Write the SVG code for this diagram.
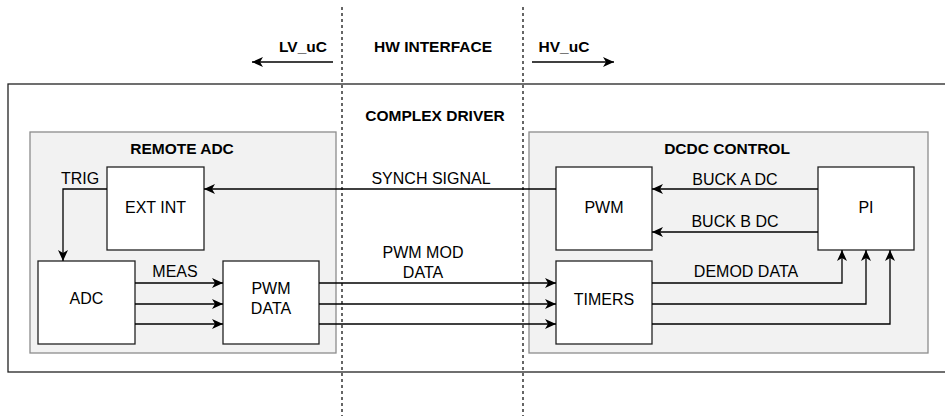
<svg xmlns="http://www.w3.org/2000/svg" width="945" height="416" viewBox="0 0 945 416">
  <style>
    text { font-family: "Liberation Sans", Arial, sans-serif; fill: #000; text-anchor: middle; }
    .lbl { font-size: 16px; }
    .ttl { font-size: 15.5px; font-weight: bold; }
    .blk { fill: #fff; stroke: #222; stroke-width: 1.3; }
    .grp { fill: #f2f2f2; stroke: #8c8c8c; stroke-width: 1.3; }
    .frame { fill: none; stroke: #222; stroke-width: 1.3; }
    .wire { fill: none; stroke: #000; stroke-width: 1.3; }
    .arr { marker-end: url(#head); }
    .dash { stroke: #000; stroke-width: 1.2; stroke-dasharray: 3 3; }
  </style>
  <defs>
    <marker id="head" viewBox="0 0 11 10" refX="11" refY="5" markerWidth="11" markerHeight="10" markerUnits="userSpaceOnUse" orient="auto">
      <path d="M0,0 L11,5 L0,10 L3,5 Z" fill="#000"/>
    </marker>
  </defs>

  <rect width="945" height="416" fill="#fff"/>

  <!-- outer frame -->
  <g id="complex-driver">
    <rect class="frame" x="8" y="84" width="940" height="288"/>
    <text class="ttl" x="435" y="121">COMPLEX DRIVER</text>
  </g>

  <!-- domain boundaries -->
  <g id="boundaries">
    <line class="dash" x1="342" y1="7" x2="342" y2="416"/>
    <line class="dash" x1="523" y1="7" x2="523" y2="416"/>
    <text class="ttl" x="303" y="52">LV_uC</text>
    <text class="ttl" x="433" y="52">HW INTERFACE</text>
    <text class="ttl" x="564" y="52">HV_uC</text>
  </g>

  <g id="remote-adc">
    <rect class="grp" x="30" y="132" width="306" height="221"/>
    <text class="ttl" x="182" y="154">REMOTE ADC</text>
  </g>

  <g id="dcdc-control">
    <rect class="grp" x="529" y="132" width="399" height="221"/>
    <text class="ttl" x="727" y="154">DCDC CONTROL</text>
  </g>

  <g id="ext-int">
    <rect class="blk" x="107" y="167" width="97" height="83"/>
    <text class="lbl" x="155.5" y="213">EXT INT</text>
  </g>

  <g id="adc">
    <rect class="blk" x="38" y="261" width="97" height="83"/>
    <text class="lbl" x="86.5" y="304">ADC</text>
  </g>

  <g id="pwm-data">
    <rect class="blk" x="223" y="261" width="96" height="83"/>
    <text class="lbl" x="271" y="294">PWM</text>
    <text class="lbl" x="271" y="314">DATA</text>
  </g>

  <g id="pwm">
    <rect class="blk" x="556" y="167" width="96" height="83"/>
    <text class="lbl" x="604" y="213">PWM</text>
  </g>

  <g id="timers">
    <rect class="blk" x="556" y="261" width="96" height="83"/>
    <text class="lbl" x="604" y="305">TIMERS</text>
  </g>

  <g id="pi">
    <rect class="blk" x="818" y="167" width="96" height="83"/>
    <text class="lbl" x="866" y="213">PI</text>
  </g>

  <g id="connectors">
    <!-- direction hints -->
    <line class="wire arr" x1="333" y1="62" x2="252" y2="62"/>
    <line class="wire arr" x1="532" y1="62" x2="614" y2="62"/>

    <!-- trigger -->
    <polyline class="wire arr" points="107,189 63,189 63,261"/>
    <text class="lbl" x="80" y="184">TRIG</text>

    <!-- sync -->
    <line class="wire arr" x1="556" y1="189" x2="204" y2="189"/>
    <text class="lbl" x="431" y="184">SYNCH SIGNAL</text>

    <!-- duty cycles -->
    <line class="wire arr" x1="818" y1="189" x2="652" y2="189"/>
    <text class="lbl" x="735" y="185">BUCK A DC</text>
    <line class="wire arr" x1="818" y1="232" x2="652" y2="232"/>
    <text class="lbl" x="735" y="227">BUCK B DC</text>

    <!-- measurements -->
    <line class="wire arr" x1="135" y1="283" x2="223" y2="283"/>
    <line class="wire arr" x1="135" y1="304" x2="223" y2="304"/>
    <line class="wire arr" x1="135" y1="324" x2="223" y2="324"/>
    <text class="lbl" x="175" y="277">MEAS</text>

    <!-- modulated data -->
    <line class="wire arr" x1="319" y1="283" x2="556" y2="283"/>
    <line class="wire arr" x1="319" y1="304" x2="556" y2="304"/>
    <line class="wire arr" x1="319" y1="324" x2="556" y2="324"/>
    <text class="lbl" x="423" y="258">PWM MOD</text>
    <text class="lbl" x="423" y="278">DATA</text>

    <!-- demodulated data -->
    <polyline class="wire arr" points="652,283 842,283 842,250"/>
    <polyline class="wire arr" points="652,304 866,304 866,250"/>
    <polyline class="wire arr" points="652,324 890,324 890,250"/>
    <text class="lbl" x="746" y="277">DEMOD DATA</text>
  </g>
</svg>
